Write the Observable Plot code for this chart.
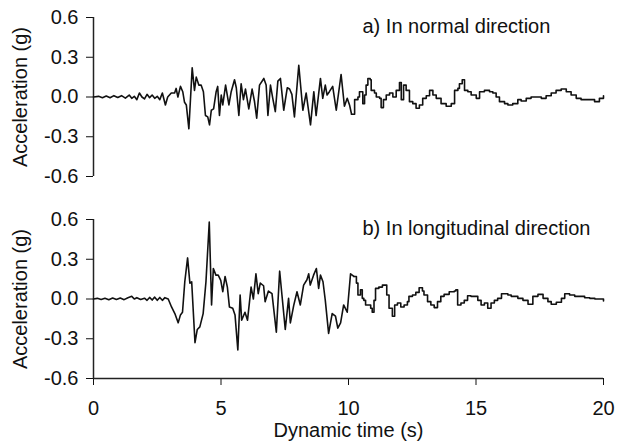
<!DOCTYPE html>
<html>
<head>
<meta charset="utf-8">
<script src="https://cdn.jsdelivr.net/npm/d3@7"></script>
<script src="https://cdn.jsdelivr.net/npm/@observablehq/plot@0.6"></script>
<style>
  html, body { margin: 0; padding: 0; background: #fff; }
  #chart { position: relative; width: 629px; height: 446px; }
  #chart svg { position: absolute; left: 0; }
</style>
</head>
<body>
<div id="chart"></div>
<script>
// ---- Data (time in s, acceleration in g) ----
const xTicks = [0, 5, 10, 15, 20];
const yTicks = [-0.6, -0.3, 0, 0.3, 0.6];
const panelTitles = ["a) In normal direction", "b) In longitudinal direction"];
const xTitle = "Dynamic time (s)";
const yTitle = "Acceleration (g)";

// a) normal direction — smooth part
const aWave = [
  [0,0],[0.2,0.005],[0.35,-0.005],[0.5,0.008],[0.65,-0.006],[0.8,0.01],[0.95,-0.004],[1.1,0.01],
  [1.25,-0.008],[1.4,0.015],[1.5,-0.01],[1.6,0.005],[1.7,-0.02],[1.8,0.03],[1.9,0],[2.0,-0.015],
  [2.1,0.02],[2.2,-0.005],[2.3,0.015],[2.4,-0.01],[2.5,0.005],[2.6,-0.02],[2.7,0.03],
  [2.82,-0.06],[2.91,0],[3.05,0.03],[3.18,0.03],[3.24,0.065],[3.31,0],[3.41,0.08],[3.5,0.04],
  [3.57,-0.04],[3.64,-0.06],[3.74,-0.24],[3.87,0.22],[3.96,0.05],[4.03,0.15],[4.13,0.09],[4.22,0.09],
  [4.31,0.04],[4.39,-0.14],[4.48,-0.15],[4.55,-0.21],[4.62,-0.10],[4.71,-0.09],[4.81,0.04],[4.87,0.08],
  [4.94,-0.14],[5.01,0.015],[5.07,-0.06],[5.18,0.09],[5.31,-0.06],[5.4,0.04],[5.53,0.13],[5.6,0.07],
  [5.7,-0.14],[5.79,0.10],[5.88,-0.02],[5.96,0.06],[6.09,-0.09],[6.22,0.06],[6.31,-0.03],[6.4,-0.16],
  [6.51,0.09],[6.68,0.14],[6.77,0.09],[6.84,-0.14],[6.94,0.09],[7.03,-0.01],[7.13,-0.11],[7.23,0.12],
  [7.33,0.14],[7.46,-0.1],[7.6,0.07],[7.69,0.06],[7.78,0.02],[7.88,-0.15],[8.05,0.24],[8.21,-0.1],
  [8.34,0.03],[8.51,-0.21],[8.64,0.04],[8.73,-0.14],[8.9,0.14],[8.99,-0.01],[9.09,0.09],[9.16,0.015],
  [9.25,0.04],[9.38,0.08],[9.52,-0.1],[9.71,0.17],[9.84,-0.07],[9.95,-0.01],[10.04,-0.06],[10.12,-0.13]
];
// a) normal direction — stepped part
const aSteps = [
  [10.12,-0.13],[10.24,-0.02],[10.37,0],[10.43,0.04],[10.56,-0.05],[10.63,0.015],[10.69,0.09],[10.76,0.14],
  [10.85,0.13],[10.89,0.05],[11.02,0.03],[11.09,0],[11.22,-0.01],[11.28,-0.08],[11.37,-0.02],[11.48,0.015],
  [11.61,0.03],[11.74,0],[11.87,0.05],[12.0,0.11],[12.07,-0.02],[12.16,0.09],[12.26,0.05],[12.39,-0.035],
  [12.52,-0.05],[12.65,-0.085],[12.78,-0.06],[12.91,-0.01],[13.05,0.01],[13.18,0.05],[13.31,0.015],[13.44,-0.01],
  [13.63,-0.05],[13.83,-0.07],[14.03,-0.05],[14.16,0.05],[14.29,0.065],[14.35,0.10],[14.46,0.13],[14.55,0.05],
  [14.68,0.04],[14.81,0.015],[15.01,-0.01],[15.14,0.04],[15.33,0.05],[15.53,0.04],[15.66,0.03],[15.79,0],
  [15.92,-0.035],[16.12,-0.05],[16.25,-0.06],[16.44,-0.05],[16.64,-0.02],[16.77,-0.03],[16.97,-0.01],[17.16,0],
  [17.36,0],[17.56,-0.01],[17.75,0.01],[17.95,0.03],[18.14,0.05],[18.34,0.06],[18.54,0.04],[18.73,0.015],
  [18.93,-0.01],[19.12,-0.02],[19.32,-0.02],[19.52,-0.02],[19.65,-0.035],[19.84,-0.01],[20.0,0.01]
];

// b) longitudinal direction — smooth part
const bWave = [
  [0,0],[0.15,0.005],[0.3,-0.004],[0.45,0.006],[0.6,-0.005],[0.75,0.008],[0.9,-0.004],[1.05,0.008],
  [1.2,-0.005],[1.35,0.01],[1.5,0.02],[1.6,0],[1.7,0.01],[1.85,-0.004],[2.0,0.006],[2.1,-0.01],
  [2.2,0.012],[2.3,-0.008],[2.4,0.014],[2.5,-0.01],[2.6,0.012],[2.7,-0.01],[2.8,0.01],[2.93,0],
  [3.06,-0.06],[3.19,-0.11],[3.32,-0.18],[3.41,-0.12],[3.49,-0.10],[3.58,0.13],[3.69,0.31],[3.78,0.12],
  [3.85,0.13],[3.98,-0.33],[4.07,-0.23],[4.17,-0.21],[4.3,-0.11],[4.41,0.13],[4.54,0.58],[4.63,-0.045],
  [4.7,0.23],[4.8,0.18],[4.89,0.18],[4.99,0.14],[5.07,0.055],[5.16,0.17],[5.25,0.09],[5.33,-0.06],
  [5.46,-0.07],[5.55,-0.12],[5.66,-0.385],[5.75,0.03],[5.81,-0.16],[5.94,-0.1],[6.04,-0.16],[6.18,0.09],
  [6.27,0],[6.37,0.19],[6.46,0.04],[6.54,0.12],[6.67,0.1],[6.73,-0.02],[6.86,0.06],[7.0,0.04],
  [7.17,-0.25],[7.3,0.21],[7.39,0.03],[7.52,-0.23],[7.65,0.005],[7.72,-0.18],[7.85,-0.05],[7.98,0.055],
  [8.11,-0.045],[8.24,0.105],[8.37,0.145],[8.44,0.19],[8.5,0.105],[8.63,0.18],[8.74,0.23],[8.83,0.08],
  [8.9,0.18],[9.0,0.13],[9.09,-0.01],[9.22,-0.26],[9.36,-0.11],[9.49,-0.13],[9.58,-0.22],[9.69,-0.18],
  [9.81,-0.045],[9.95,-0.1],[10.08,0.19],[10.21,0.17]
];
// b) longitudinal direction — stepped part
const bSteps = [
  [10.21,0.17],[10.31,0.12],[10.37,0.03],[10.47,0.07],[10.54,0.005],[10.6,-0.01],[10.67,-0.045],[10.8,-0.045],
  [10.87,-0.07],[10.93,-0.1],[11.0,-0.01],[11.06,0.08],[11.19,0.09],[11.33,0.105],[11.42,0.105],[11.5,0.03],
  [11.59,-0.07],[11.72,-0.13],[11.81,-0.045],[11.92,-0.03],[12.05,-0.06],[12.18,-0.045],[12.31,-0.02],[12.37,0.02],
  [12.51,0.03],[12.64,0.05],[12.77,0.085],[12.9,0.06],[12.96,0.03],[13.1,-0.02],[13.23,-0.045],[13.36,-0.065],
  [13.49,-0.02],[13.62,0.02],[13.75,0.035],[13.95,0.055],[14.15,0.06],[14.21,0.07],[14.28,-0.045],[14.41,-0.03],
  [14.54,-0.01],[14.67,0.025],[14.8,0.02],[14.93,0.02],[15.07,-0.01],[15.2,-0.045],[15.33,-0.03],[15.46,-0.07],
  [15.59,-0.03],[15.72,-0.01],[15.85,0.005],[16.0,0.04],[16.11,0.04],[16.25,0.03],[16.38,0.02],[16.64,0.005],
  [16.84,-0.01],[17.04,-0.04],[17.23,0.02],[17.43,0.035],[17.63,0.005],[17.82,-0.02],[17.95,-0.04],[18.15,-0.025],
  [18.35,0.005],[18.48,0.04],[18.67,0.03],[18.87,0.02],[19.07,0.02],[19.26,0.01],[19.46,0.005],[19.66,0],
  [19.85,0],[20.0,-0.015]
];

// ---- Drawing ----
const FONT = "Arial, 'Liberation Sans', sans-serif";
const FS = 20;
const toRows = arr => arr.map(([t, v]) => ({t, v}));

function panel({wave, steps, title, top, height, marginTop, marginBottom, showX}) {
  const marks = [
    Plot.ruleX([0], {stroke: "#222", strokeWidth: 1.5}),
    Plot.line(toRows(wave), {x: "t", y: "v", stroke: "#111", strokeWidth: 1.6, curve: "linear"}),
    Plot.line(toRows(steps), {x: "t", y: "v", stroke: "#111", strokeWidth: 1.6, curve: "step-after"}),
    Plot.text([title], {frameAnchor: "top-left", dx: 269, dy: 1, lineAnchor: "top", textAnchor: "start",
      fontSize: FS, fill: "#111"}),
    Plot.text([yTitle], {frameAnchor: "left", dx: -73, rotate: -90, textAnchor: "middle",
      lineAnchor: "middle", fontSize: FS, fill: "#111"})
  ];
  if (showX) {
    marks.push(Plot.ruleY([-0.6], {stroke: "#222", strokeWidth: 1.5}));
    marks.push(Plot.text([xTitle], {frameAnchor: "bottom", dy: 58, textAnchor: "middle",
      fontSize: FS, fill: "#111"}));
  }
  const svg = Plot.plot({
    width: 629,
    height,
    marginLeft: 93,
    marginRight: 26,
    marginTop,
    marginBottom,
    style: {fontFamily: FONT, fontSize: FS + "px", color: "#111", background: "transparent", overflow: "visible"},
    x: {domain: [0, 20], ticks: xTicks, tickSize: 7, tickPadding: 15, label: null, axis: showX ? "bottom" : null},
    y: {domain: [-0.6, 0.6], ticks: yTicks, tickSize: 7, tickPadding: 8, label: null,
        tickFormat: d => d.toFixed(1)},
    marks
  });
  svg.style.top = top + "px";
  return svg;
}

const chart = document.getElementById("chart");
chart.appendChild(panel({wave: aWave, steps: aSteps, title: panelTitles[0], top: 0, height: 200,
  marginTop: 17, marginBottom: 24, showX: false}));
chart.appendChild(panel({wave: bWave, steps: bSteps, title: panelTitles[1], top: 200, height: 246,
  marginTop: 19, marginBottom: 68, showX: true}));
</script>
</body>
</html>
